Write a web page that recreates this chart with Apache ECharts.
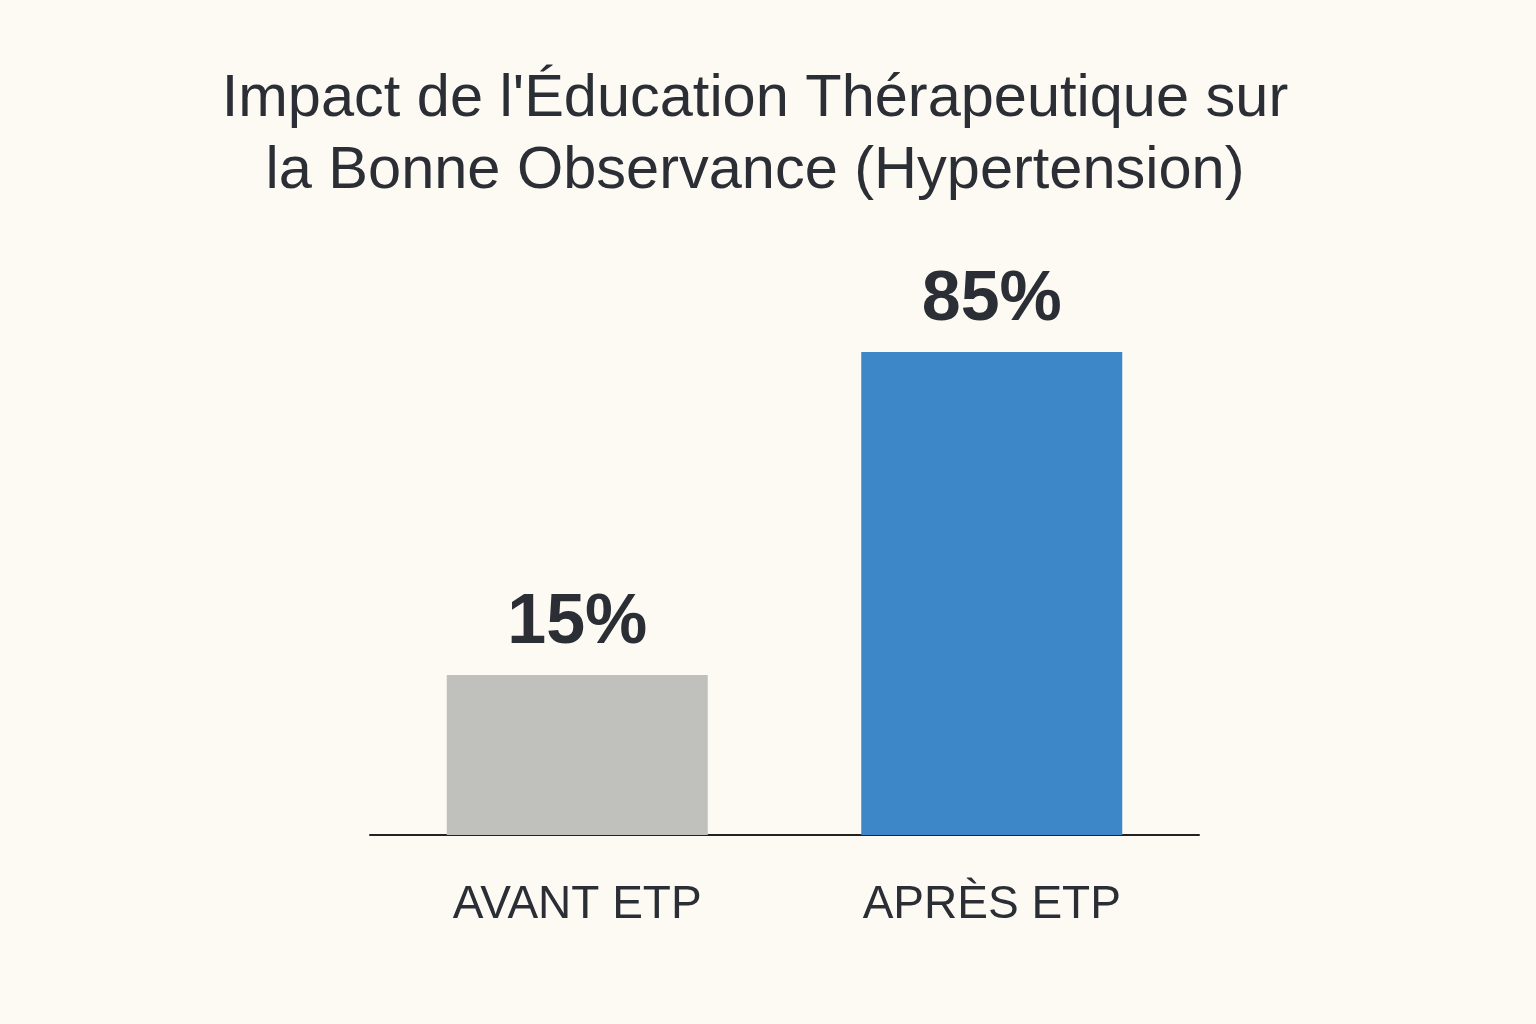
<!DOCTYPE html>
<html>
<head>
<meta charset="utf-8">
<script src="https://cdn.jsdelivr.net/npm/echarts@6/dist/echarts.min.js"></script>
<style>
html,body{margin:0;padding:0;background:#fcfaf3;}
#c{width:1536px;height:1024px;}
</style>
</head>
<body>
<div id="c"></div>
<script>
const titleText = "Impact de l'Éducation Thérapeutique sur\nla Bonne Observance (Hypertension)";
const categories = ["AVANT ETP", "APRÈS ETP"];
const values = [15, 85];
const barColors = ["#c0c0bc", "#3d87c8"];

const chart = echarts.init(document.getElementById('c'));
const font = "'Liberation Sans', Arial, Helvetica, sans-serif";
chart.setOption({
  backgroundColor: '#fcfaf3',
  animation: false,
  title: {
    text: titleText,
    left: 750,
    top: 59,
    textAlign: 'center',
    textStyle: {
      fontFamily: font,
      fontSize: 59.5,
      fontWeight: 'normal',
      color: '#2b2f35',
      lineHeight: 72
    }
  },
  grid: { left: 370, right: 337, top: 352, bottom: 189, containLabel: false },
  xAxis: {
    type: 'category',
    data: categories,
    axisLine: { lineStyle: { color: '#222222', width: 2 } },
    axisTick: { show: false },
    axisLabel: {
      margin: 47,
      fontFamily: font,
      fontSize: 46,
      color: '#2b2f35'
    }
  },
  yAxis: {
    type: 'log',
    logBase: 10,
    min: 6.35,
    max: 85,
    show: false,
    splitLine: { show: false }
  },
  series: [{
    type: 'bar',
    barWidth: 261,
    clip: true,
    data: values.map((v, i) => ({ value: v, itemStyle: { color: barColors[i] } })),
    label: {
      show: true,
      position: 'top',
      distance: 16,
      formatter: p => p.value + '%',
      fontFamily: font,
      fontSize: 70,
      fontWeight: 'bold',
      color: '#2b2f35'
    }
  }]
});
</script>
</body>
</html>
